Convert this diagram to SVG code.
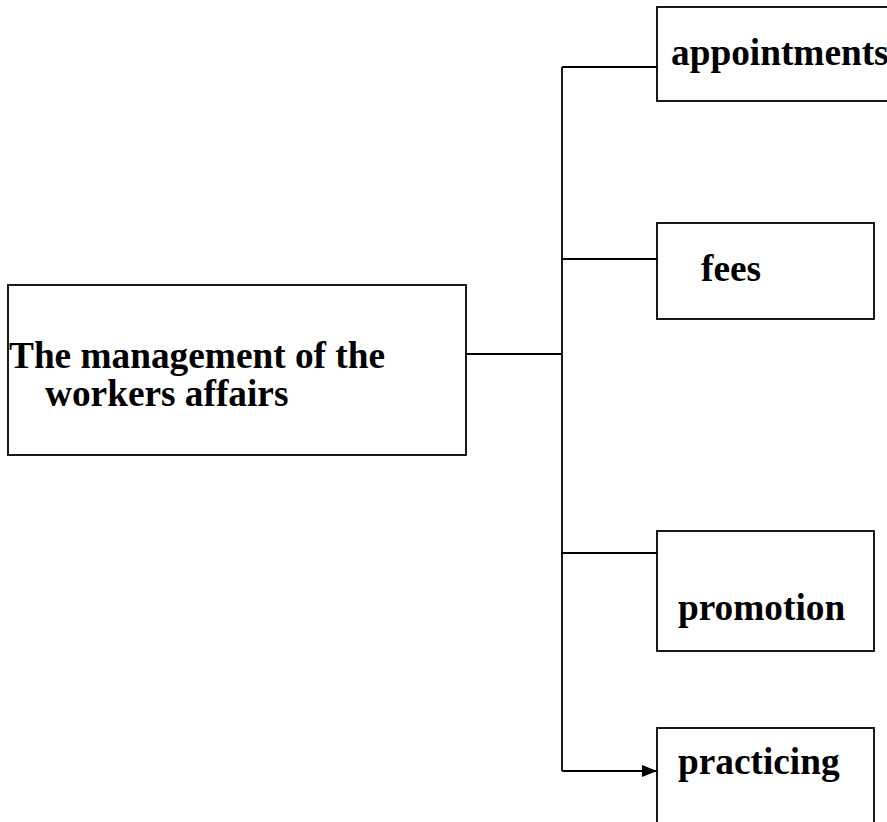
<svg xmlns="http://www.w3.org/2000/svg" width="887" height="822" viewBox="0 0 887 822">
  <style>
    .box { fill: #ffffff; stroke: #000000; stroke-width: 1.8; }
    .link { fill: none; stroke: #000000; stroke-width: 1.8; }
    .label { font-family: "Liberation Serif", "Times New Roman", serif; font-weight: bold; font-size: 37.3px; fill: #000000; }
  </style>
  <defs>
    <marker id="arrow" markerUnits="userSpaceOnUse" markerWidth="15" markerHeight="12" refX="15" refY="6" orient="auto">
      <path d="M0,0 L15,6 L0,12 Z" fill="#000000"/>
    </marker>
  </defs>
  <rect width="887" height="822" fill="#ffffff"/>

  <g id="connectors">
    <line class="link" x1="466" y1="354" x2="562" y2="354"/>
    <line class="link" x1="562" y1="67" x2="562" y2="771"/>
    <line class="link" x1="562" y1="67" x2="657" y2="67"/>
    <line class="link" x1="562" y1="259" x2="657" y2="259"/>
    <line class="link" x1="562" y1="553" x2="657" y2="553"/>
    <line class="link" x1="562" y1="771" x2="657" y2="771" marker-end="url(#arrow)"/>
  </g>

  <g id="management">
    <rect class="box" x="8" y="285" width="458" height="170"/>
    <text class="label" x="9" y="368">The management of the</text>
    <text class="label" x="45" y="406">workers affairs</text>
  </g>

  <g id="appointments">
    <rect class="box" x="657" y="7" width="250" height="94"/>
    <text class="label" x="671" y="65">appointments</text>
  </g>

  <g id="fees">
    <rect class="box" x="657" y="223" width="217" height="96"/>
    <text class="label" x="701" y="281">fees</text>
  </g>

  <g id="promotion">
    <rect class="box" x="657" y="531" width="217" height="120"/>
    <text class="label" x="678" y="620">promotion</text>
  </g>

  <g id="practicing">
    <rect class="box" x="657" y="728" width="217" height="110"/>
    <text class="label" x="678" y="774">practicing</text>
  </g>
</svg>
